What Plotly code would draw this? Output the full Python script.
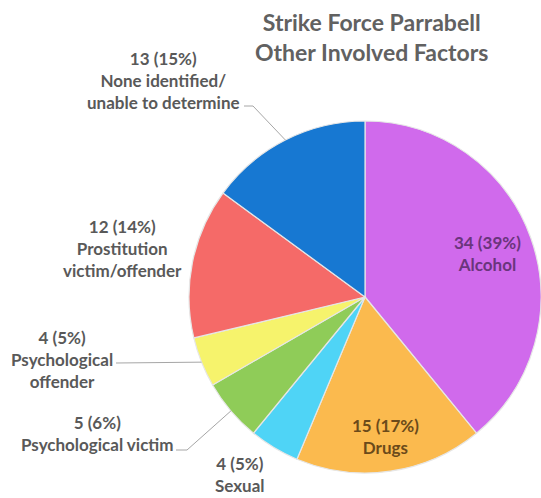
import math
import plotly.graph_objects as go

# ---- data ----
categories = ["Alcohol", "Drugs", "Sexual", "Psychological victim",
              "Psychological offender", "Prostitution victim/offender",
              "None identified/unable to determine"]
label_lines = [["Alcohol"], ["Drugs"], ["Sexual"], ["Psychological victim"],
               ["Psychological", "offender"], ["Prostitution", "victim/offender"],
               ["None identified/", "unable to determine"]]
counts = [34, 15, 4, 5, 4, 12, 13]
percents = [39, 17, 5, 6, 5, 14, 15]
colors = ["#D06AEC", "#FBBA4E", "#4FD4F6", "#8FCC58", "#F6F36C", "#F56A68", "#1778D2"]

W, H = 541, 498
CX, CY, R = 365, 297, 176    # pie centre / radius in pixels

def px(x):
    return x / W

def py(y):
    return 1 - y / H

fig = go.Figure(go.Pie(
    labels=categories,
    values=counts,
    marker=dict(colors=colors, line=dict(color="#E6E6E6", width=1.2)),
    sort=False,
    direction="clockwise",
    rotation=0,
    textinfo="none",
    hoverinfo="label+value+percent",
    showlegend=False,
    domain=dict(x=[px(CX - R), min(1.0, px(CX + R))], y=[py(CY + R), py(CY - R)]),
))

total = sum(counts)
mids = []
acc = 0
for c in counts:
    mids.append((acc + c / 2) / total * 2 * math.pi)
    acc += c

def edge(i, f=1.0):
    a = mids[i]
    return CX + f * R * math.sin(a), CY - f * R * math.cos(a)

FONT = "Lato"
GRAY = "#595959"
FS = 17
annotations = []

def label_text(i):
    return "<br>".join([f"{counts[i]} ({percents[i]}%)"] + label_lines[i])

# inside labels
inside = {0: (0.74, "#6A357C"), 1: (0.80, "#6B4A1A")}
for i, (f, col) in inside.items():
    x, y = edge(i, f)
    annotations.append(dict(x=px(x), y=py(y), xref="paper", yref="paper",
                            text=label_text(i), showarrow=False,
                            font=dict(family=FONT, size=FS, color=col, weight="bold"),
                            xanchor="center", yanchor="middle"))

# outside labels (pixel positions of text centres)
outside = {6: (163, 80), 5: (122, 248), 4: (62, 359), 3: (97, 433), 2: (240, 474)}
for i, (x, y) in outside.items():
    annotations.append(dict(x=px(x), y=py(y), xref="paper", yref="paper",
                            text=label_text(i), showarrow=False,
                            font=dict(family=FONT, size=FS, color=GRAY, weight="bold"),
                            xanchor="center", yanchor="middle"))

# title
annotations.append(dict(x=px(371), y=py(37), xref="paper", yref="paper",
                        text="Strike Force Parrabell<br>Other Involved Factors",
                        showarrow=False,
                        font=dict(family=FONT, size=23, color="#616161", weight="bold"),
                        xanchor="center", yanchor="middle"))

# leader lines
shapes = []
leaders = {6: [(244, 106), (253, 106)], 4: [(116, 363)], 3: [(176, 450), (187, 450)]}
for i, pts in leaders.items():
    ex, ey = edge(i, 1.0)
    all_pts = pts + [(ex, ey)]
    path = "M " + " L ".join(f"{px(x)},{py(y)}" for x, y in all_pts)
    shapes.append(dict(type="path", path=path, xref="paper", yref="paper",
                       line=dict(color="#A6A6A6", width=1)))

fig.update_layout(
    width=W, height=H,
    margin=dict(l=0, r=0, t=0, b=0),
    paper_bgcolor="white", plot_bgcolor="white",
    annotations=annotations, shapes=shapes,
)
fig.write_html("out.html", config={"displayModeBar": False},
               post_script="document.body.style.margin='0';document.body.style.overflow='hidden';")
